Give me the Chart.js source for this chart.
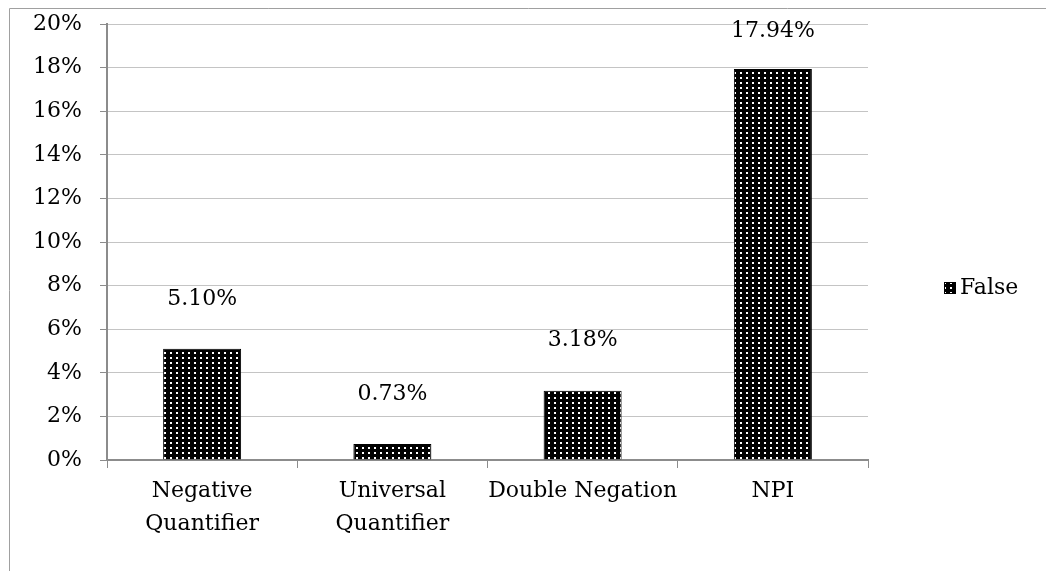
<!DOCTYPE html>
<html>
<head>
<meta charset="utf-8">
<script src="https://cdn.jsdelivr.net/npm/chart.js@4.4.0/dist/chart.umd.min.js"></script>
<style>
  html, body { margin: 0; padding: 0; background: #fff; }
  #wrap { width: 1046px; height: 571px; }
</style>
</head>
<body>
<div id="wrap"><canvas id="chart" width="1046" height="571"></canvas></div>
<script>
  // values
  const categories = [['Negative', 'Quantifier'], ['Universal', 'Quantifier'], 'Double Negation', 'NPI'];
  const falseValues = [5.10, 0.73, 3.18, 17.94];
  const seriesName = 'False';

  const FONT = '"DejaVu Serif", serif';
  const AXIS_GREY = '#8c8c8c';
  const GRID_GREY = '#c4c4c4';

  // black fill with small white dots, like the Excel pattern
  function makePattern() {
    const c = document.createElement('canvas');
    c.width = 6;
    c.height = 5;
    const g = c.getContext('2d');
    g.fillStyle = '#000';
    g.fillRect(0, 0, 6, 5);
    g.fillStyle = '#fff';
    g.fillRect(2, 2, 2, 2);
    return g.createPattern(c, 'repeat');
  }
  const dots = makePattern();

  const framePlugin = {
    id: 'frame',
    beforeDraw(chart) {
      const ctx = chart.ctx;
      ctx.save();
      ctx.strokeStyle = '#a0a0a0';
      ctx.lineWidth = 1;
      ctx.beginPath();
      ctx.moveTo(9.5, chart.height + 2);
      ctx.lineTo(9.5, 8.5);
      ctx.lineTo(chart.width + 2, 8.5);
      ctx.stroke();
      ctx.restore();
    }
  };

  const labelPlugin = {
    id: 'valueLabels',
    afterDatasetsDraw(chart) {
      const ctx = chart.ctx;
      const meta = chart.getDatasetMeta(0);
      ctx.save();
      ctx.font = '22px ' + FONT;
      ctx.fillStyle = '#000';
      ctx.textAlign = 'center';
      ctx.textBaseline = 'middle';
      meta.data.forEach((bar, i) => {
        const y = Math.max(bar.y - 50, 31);
        ctx.fillText(falseValues[i].toFixed(2) + '%', bar.x, y);
      });
      ctx.restore();
    }
  };

  const legendPlugin = {
    id: 'sideLegend',
    afterDraw(chart) {
      const ctx = chart.ctx;
      const x = 944, y = 288;
      ctx.save();
      ctx.fillStyle = dots;
      ctx.fillRect(x, y - 6, 12, 12);
      ctx.strokeStyle = '#000';
      ctx.strokeRect(x + 0.5, y - 5.5, 11, 11);
      ctx.font = '22px ' + FONT;
      ctx.fillStyle = '#000';
      ctx.textBaseline = 'middle';
      ctx.fillText(seriesName, x + 16, y);
      ctx.restore();
    }
  };

  new Chart(document.getElementById('chart').getContext('2d'), {
    type: 'bar',
    data: {
      labels: categories,
      datasets: [{
        label: seriesName,
        data: falseValues,
        backgroundColor: dots,
        borderColor: '#000',
        borderWidth: 1,
        categoryPercentage: 1,
        barPercentage: 0.41
      }]
    },
    options: {
      responsive: false,
      animation: false,
      layout: { padding: { top: 24, right: 178, bottom: 0, left: 0 } },
      plugins: {
        legend: { display: false },
        tooltip: { enabled: false }
      },
      scales: {
        x: {
          afterFit: s => { s.height = 111; s.paddingLeft = 0; s.paddingRight = 0; },
          grid: {
            offset: true,
            drawOnChartArea: false,
            drawTicks: true,
            tickLength: 8,
            tickColor: AXIS_GREY
          },
          border: { color: AXIS_GREY, width: 2 },
          ticks: {
            color: '#000',
            font: { family: FONT, size: 22, lineHeight: 1.5 },
            padding: 7,
            maxRotation: 0,
            autoSkip: false
          }
        },
        y: {
          min: 0,
          max: 20,
          afterFit: s => { s.width = 107; s.paddingTop = 0; s.paddingBottom = 0; },
          grid: {
            color: GRID_GREY,
            tickColor: AXIS_GREY,
            tickLength: 7
          },
          border: { color: AXIS_GREY, width: 2 },
          ticks: {
            stepSize: 2,
            color: '#000',
            padding: 18,
            font: { family: FONT, size: 22 },
            callback: v => v + '%'
          }
        }
      }
    },
    plugins: [framePlugin, labelPlugin, legendPlugin]
  });
</script>
</body>
</html>
